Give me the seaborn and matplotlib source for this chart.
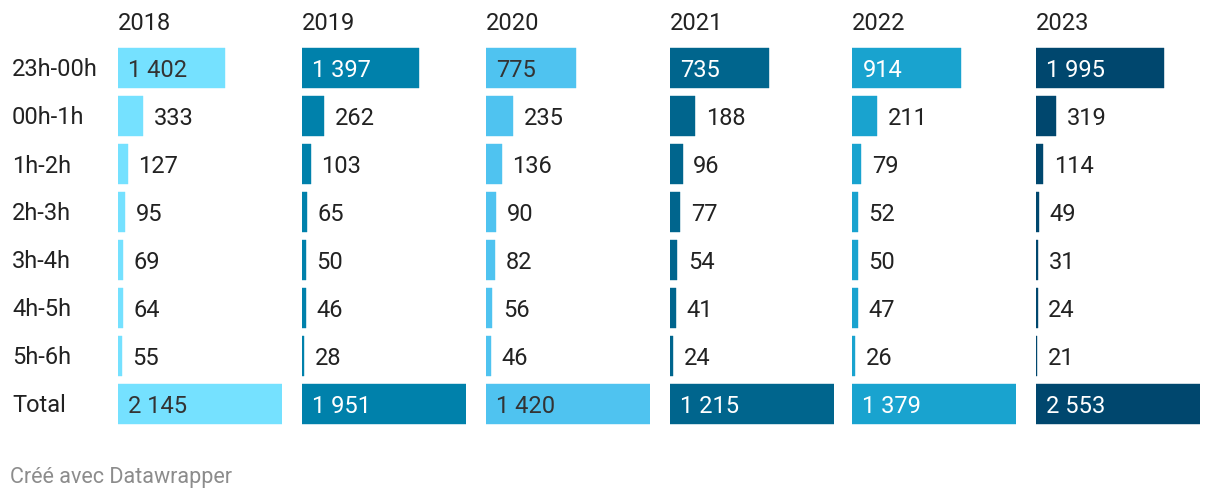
import pandas as pd
import numpy as np
import seaborn as sns
import matplotlib.pyplot as plt

years = ['2018', '2019', '2020', '2021', '2022', '2023']
slots = ['23h-00h', '00h-1h', '1h-2h', '2h-3h', '3h-4h', '4h-5h', '5h-6h', 'Total']
v2018 = [1402, 333, 127, 95, 69, 64, 55, 2145]
v2019 = [1397, 262, 103, 65, 50, 46, 28, 1951]
v2020 = [775, 235, 136, 90, 82, 56, 46, 1420]
v2021 = [735, 188, 96, 77, 54, 41, 24, 1215]
v2022 = [914, 211, 79, 52, 50, 47, 26, 1379]
v2023 = [1995, 319, 114, 49, 31, 24, 21, 2553]
colors = ['#75e1ff', '#0081ab', '#4fc3f0', '#00658d', '#19a3cf', '#00476e']
inside_text = ['#333333', '#ffffff', '#333333', '#ffffff', '#ffffff', '#ffffff']

values = [v2018, v2019, v2020, v2021, v2022, v2023]
df = pd.DataFrame({
    'year': np.repeat(years, len(slots)),
    'slot': slots * len(years),
    'value': np.concatenate(values),
})

sns.set_theme(style='white')
plt.rcParams['font.family'] = ['Roboto', 'DejaVu Sans']

W, H = 1220, 500
fig = plt.figure(figsize=(W / 100, H / 100), dpi=100)

col_left = [118, 302, 486, 670, 852, 1036]
col_w = 164
top, bottom = 44, 428


def fmt(v):
    return f'{v:,}'.replace(',', ' ')


for k, yr in enumerate(years):
    ax = fig.add_axes([col_left[k] / W, 1 - bottom / H, col_w / W, (bottom - top) / H])
    d = df[df['year'] == yr]
    sns.barplot(data=d, x='value', y='slot', order=slots, color=colors[k],
                width=40 / 48, saturation=1, edgecolor=colors[k], linewidth=0.3, ax=ax)
    total = d['value'].max()
    ax.set_xlim(0, total)
    ax.set_ylim(7.5, -0.5)
    ax.axis('off')
    for i, v in enumerate(d['value']):
        px = v / total * col_w
        if px > 60:
            ax.annotate(fmt(v), xy=(0, i), xytext=(7.5, -1.5), textcoords='offset points',
                        va='center', ha='left', fontsize=17, color=inside_text[k])
        else:
            ax.annotate(fmt(v), xy=(v, i), xytext=(7.5, -1.5), textcoords='offset points',
                        va='center', ha='left', fontsize=17, color='#222222')
    ax.text(0, 1 + 20 / (bottom - top), yr, transform=ax.transAxes, ha='left',
            va='center', fontsize=17, color='#222222')

for i, s in enumerate(slots):
    y = 70 + 48 * i
    fig.text(12 / W, 1 - y / H, s, ha='left', va='center', fontsize=17, color='#222222')

fig.text(10 / W, 1 - 478 / H, 'Créé avec Datawrapper', ha='left', va='center',
         fontsize=15.5, color='#8c8c8c')

fig.savefig('out.png', dpi=100)
